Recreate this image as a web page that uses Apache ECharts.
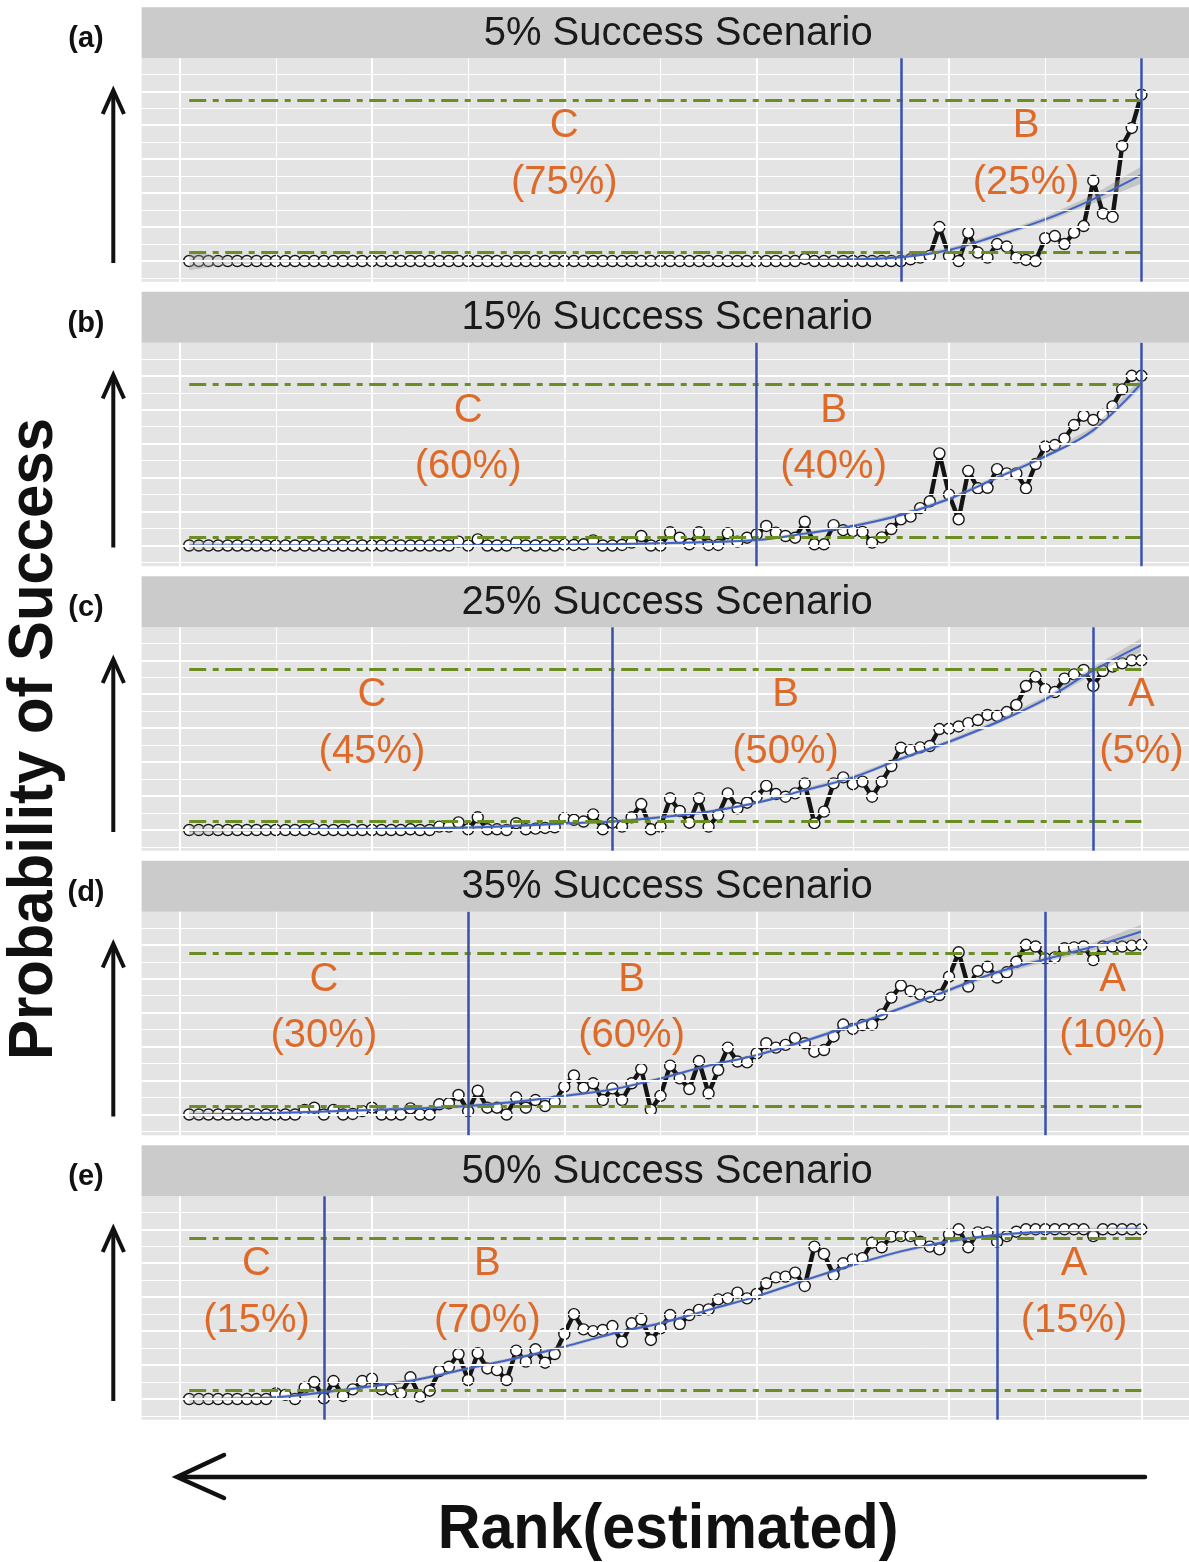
<!DOCTYPE html>
<html>
<head>
<meta charset="utf-8">
<title>Probability of Success by estimated rank</title>
<script src="https://cdn.jsdelivr.net/npm/echarts@6/dist/echarts.min.js"></script>
<style>
  html, body { margin: 0; padding: 0; background: #ffffff; }
  #chart { width: 1189px; height: 1562px; }
</style>
</head>
<body>
<div id="chart"></div>
<script>
// ---------------------------------------------------------------------------
// Data
// ---------------------------------------------------------------------------
// Estimated rank positions (1 .. 100)
const ranks = Array.from({ length: 100 }, (_, i) => i + 1);

const scenarioTitles = [
  '\u20075% Success Scenario',
  '15% Success Scenario',
  '25% Success Scenario',
  '35% Success Scenario',
  '50% Success Scenario'
];
const panelTags = ['(a)', '(b)', '(c)', '(d)', '(e)'];

// Observed probability of success at each rank
const probA = [
  0, 0, 0, 0, 0, 0, 0, 0, 0, 0,
  0, 0, 0, 0, 0, 0, 0, 0, 0, 0,
  0, 0, 0, 0, 0, 0, 0, 0, 0, 0,
  0, 0, 0, 0, 0, 0, 0, 0, 0, 0,
  0, 0, 0, 0, 0, 0, 0, 0, 0, 0,
  0, 0, 0, 0, 0, 0, 0, 0, 0, 0,
  0, 0, 0, 0, 0.012, 0, 0, 0, 0, 0,
  0, 0, 0, 0, 0, 0.01, 0.02, 0.03, 0.20, 0.03,
  0, 0.167, 0.05, 0.02, 0.10, 0.085, 0.02, 0.006, 0, 0.134,
  0.147, 0.10, 0.167, 0.206, 0.473, 0.28, 0.26, 0.678, 0.784, 0.98
];
const probB = [
  0, 0, 0, 0, 0, 0, 0, 0, 0, 0,
  0, 0, 0, 0, 0, 0, 0, 0, 0, 0,
  0, 0, 0, 0, 0, 0, 0, 0, 0.023, 0,
  0.036, 0, 0, 0, 0.017, 0, 0, 0, 0, 0.005,
  0.003, 0.007, 0.03, 0, 0, 0.003, 0.017, 0.056, 0, 0,
  0.078, 0.046, 0.007, 0.078, 0.003, 0.003, 0.072, 0.023, 0.046, 0.066,
  0.115, 0.076, 0.056, 0.046, 0.14, 0.007, 0.007, 0.12, 0.09, 0.085,
  0.08, 0.017, 0.048, 0.097, 0.154, 0.17, 0.22, 0.26, 0.543, 0.30,
  0.154, 0.44, 0.337, 0.34, 0.45, 0.425, 0.425, 0.337, 0.48, 0.583,
  0.592, 0.63, 0.71, 0.765, 0.74, 0.77, 0.82, 0.92, 1.0, 1.0
];
const probC = [
  0, 0, 0, 0, 0, 0, 0, 0, 0, 0,
  0, 0, 0, 0.005, 0, 0, 0, 0, 0, 0,
  0, 0, 0, 0.004, 0, 0, 0.02, 0.02, 0.045, 0.004,
  0.075, 0.004, 0.004, 0, 0.04, 0.004, 0.008, 0.012, 0.016, 0.07,
  0.06, 0.05, 0.092, 0.004, 0.043, 0.02, 0.075, 0.153, 0.004, 0.02,
  0.187, 0.112, 0.043, 0.187, 0.02, 0.088, 0.216, 0.128, 0.161, 0.196,
  0.26, 0.212, 0.196, 0.216, 0.275, 0.04, 0.108, 0.275, 0.31, 0.27,
  0.285, 0.196, 0.285, 0.377, 0.485, 0.47, 0.487, 0.495, 0.595, 0.597,
  0.61, 0.63, 0.648, 0.678, 0.672, 0.695, 0.737, 0.849, 0.904, 0.83,
  0.813, 0.892, 0.917, 0.943, 0.849, 0.937, 0.963, 0.982, 1.0, 1.0
];
const probD = [
  0, 0, 0, 0, 0, 0, 0, 0, 0, 0,
  0, 0, 0.027, 0.04, 0, 0.027, 0, 0.003, 0.02, 0.04,
  0, 0, 0, 0.036, 0, 0, 0.06, 0.066, 0.115, 0.02,
  0.14, 0.04, 0.04, 0, 0.1, 0.04, 0.085, 0.05, 0.076, 0.164,
  0.23, 0.158, 0.184, 0.085, 0.154, 0.085, 0.184, 0.268, 0.027, 0.11,
  0.288, 0.213, 0.15, 0.315, 0.125, 0.262, 0.394, 0.312, 0.307, 0.36,
  0.42, 0.394, 0.41, 0.45, 0.42, 0.37, 0.38, 0.46, 0.53, 0.504,
  0.527, 0.53, 0.59, 0.689, 0.76, 0.728, 0.708, 0.694, 0.704, 0.812,
  0.956, 0.754, 0.846, 0.871, 0.807, 0.838, 0.9, 1.0, 0.99, 0.92,
  0.926, 0.98, 0.985, 0.99, 0.91, 0.99, 0.99, 0.99, 0.995, 1.0
];
const probE = [
  0, 0, 0, 0, 0, 0, 0, 0, 0, 0.033,
  0.024, 0, 0.067, 0.1, 0.004, 0.106, 0.018, 0.057, 0.106, 0.12,
  0.057, 0.057, 0.033, 0.128, 0.014, 0.049, 0.165, 0.19, 0.265, 0.112,
  0.27, 0.18, 0.17, 0.112, 0.285, 0.22, 0.293, 0.214, 0.265, 0.383,
  0.5, 0.41, 0.4, 0.407, 0.43, 0.338, 0.446, 0.47, 0.348, 0.416,
  0.495, 0.442, 0.495, 0.525, 0.528, 0.587, 0.593, 0.627, 0.593, 0.619,
  0.682, 0.717, 0.721, 0.745, 0.666, 0.898, 0.855, 0.73, 0.8, 0.823,
  0.83, 0.921, 0.894, 0.957, 0.96, 0.96, 0.927, 0.898, 0.882, 0.97,
  1.0, 0.894, 0.982, 0.982, 0.927, 0.96, 0.986, 1.0, 1.0, 1.0,
  1.0, 1.0, 1.0, 1.0, 0.96, 1.0, 1.0, 1.0, 1.0, 1.0
];

// Loess trend (fit and standard-error half width) sampled along the rank axis
const smoothX = [1, 5, 10, 15, 20, 25, 30, 35, 40, 45, 50, 55, 60, 65, 70, 75, 80, 85, 90, 95, 100];
const fitA = [0, 0, 0, 0, 0, 0, 0, 0, 0, 0, 0, 0, 0.002, 0.005, 0.01, 0.022, 0.065, 0.15, 0.245, 0.365, 0.507];
const seA  = [0.055, 0.02, 0.012, 0.01, 0.01, 0.01, 0.01, 0.01, 0.01, 0.01, 0.01, 0.01, 0.01, 0.01, 0.01, 0.012, 0.013, 0.014, 0.016, 0.025, 0.05];
const fitB = [0, 0, 0, 0, 0, 0.001, 0.002, 0.003, 0.004, 0.008, 0.013, 0.02, 0.032, 0.07, 0.115, 0.18, 0.274, 0.4, 0.525, 0.68, 0.956];
const seB  = [0.03, 0.015, 0.01, 0.01, 0.008, 0.008, 0.008, 0.008, 0.008, 0.008, 0.008, 0.008, 0.008, 0.01, 0.01, 0.012, 0.012, 0.012, 0.014, 0.018, 0.03];
const fitC = [-0.003, 0, 0.002, 0.004, 0.006, 0.01, 0.015, 0.025, 0.038, 0.05, 0.075, 0.108, 0.16, 0.235, 0.31, 0.42, 0.52, 0.635, 0.77, 0.94, 1.09];
const seC  = [0.03, 0.015, 0.01, 0.01, 0.01, 0.01, 0.01, 0.01, 0.01, 0.01, 0.01, 0.01, 0.01, 0.012, 0.012, 0.012, 0.014, 0.014, 0.016, 0.022, 0.04];
const fitD = [0, 0.003, 0.009, 0.017, 0.027, 0.036, 0.05, 0.075, 0.11, 0.148, 0.213, 0.288, 0.35, 0.433, 0.527, 0.626, 0.734, 0.838, 0.915, 0.99, 1.078];
const seD  = [0.025, 0.012, 0.01, 0.01, 0.01, 0.01, 0.01, 0.01, 0.01, 0.01, 0.01, 0.01, 0.01, 0.012, 0.012, 0.012, 0.014, 0.014, 0.018, 0.022, 0.04];
const fitE = [0, 0.002, 0.01, 0.04, 0.075, 0.118, 0.18, 0.24, 0.308, 0.385, 0.446, 0.525, 0.605, 0.70, 0.79, 0.87, 0.93, 0.967, 0.985, 0.995, 1.0];
const seE  = [0.025, 0.012, 0.01, 0.01, 0.01, 0.01, 0.01, 0.01, 0.01, 0.01, 0.01, 0.01, 0.01, 0.01, 0.01, 0.01, 0.01, 0.01, 0.012, 0.014, 0.02];

// Zone boundaries (rank) and the zones they separate
const cutsA = [75, 100];
const cutsB = [60, 100];
const cutsC = [45, 95];
const cutsD = [30, 90];
const cutsE = [15, 85];
const zoneNames = [['C', 'B'], ['C', 'B'], ['C', 'B', 'A'], ['C', 'B', 'A'], ['C', 'B', 'A']];
const zoneShares = [[75, 25], [60, 40], [45, 50, 5], [30, 60, 10], [15, 70, 15]];

// Reference thresholds on the probability axis
const thresholds = [0.05, 0.95];
const xTickValues = [0, 20, 40, 60, 80, 100];
const xMinorValues = [10, 30, 50, 70, 90];
const yTickValues = [0, 0.2, 0.4, 0.6, 0.8, 1.0];
const yMinorValues = [-0.1, 0.1, 0.3, 0.5, 0.7, 0.9, 1.1];

// ---------------------------------------------------------------------------
// Layout
// ---------------------------------------------------------------------------
const GRID_LEFT = 141.6, GRID_WIDTH = 1050.9;
const TOP0 = 7.3, PITCH = 284.5, STRIP_H = 51, PLOT_H = 223.4;
const X_MIN = -3.95, X_MAX = 104.95, Y_MIN = -0.122, Y_MAX = 1.1945;
const LETTER_Y = 0.795, SHARE_Y = 0.46;
const zoneLabelX = [[40, 88], [30, 68], [20, 63, 100], [15, 47, 97], [8, 32, 93]];

const FONT = '"Liberation Sans", Arial, Helvetica, sans-serif';
const COL = {
  panel: '#E4E4E4', strip: '#CBCBCB', grid: '#FFFFFF', ink: '#151515',
  fit: '#3F63C8', band: 'rgba(150,150,150,0.40)', thr: '#6B8E23',
  cut: '#3A51A8', zone: '#DE6A2A', tick: '#555555'
};

const panels = [
  { prob: probA, fit: fitA, se: seA, cuts: cutsA },
  { prob: probB, fit: fitB, se: seB, cuts: cutsB },
  { prob: probC, fit: fitC, se: seC, cuts: cutsC },
  { prob: probD, fit: fitD, se: seD, cuts: cutsD },
  { prob: probE, fit: fitE, se: seE, cuts: cutsE }
];

const grid = [], xAxis = [], yAxis = [], series = [], graphic = [];

panels.forEach((p, k) => {
  const top = TOP0 + PITCH * k;
  const isBottom = k === panels.length - 1;

  grid.push({
    left: GRID_LEFT, top: top + STRIP_H, width: GRID_WIDTH, height: PLOT_H,
    show: true, backgroundColor: COL.panel, borderWidth: 0
  });
  xAxis.push({
    type: 'value', gridIndex: k, min: X_MIN, max: X_MAX,
    axisLine: { show: false }, splitLine: { show: false }, axisLabel: { show: false },
    axisTick: isBottom
      ? { show: true, customValues: xTickValues, length: 8, lineStyle: { color: COL.tick, width: 1.5 } }
      : { show: false }
  });
  yAxis.push({
    type: 'value', gridIndex: k, min: Y_MIN, max: Y_MAX,
    axisLine: { show: false }, splitLine: { show: false }, axisLabel: { show: false },
    axisTick: { show: true, customValues: yTickValues, length: 8, lineStyle: { color: COL.tick, width: 1.5 } }
  });

  const ax = { xAxisIndex: k, yAxisIndex: k };

  // panel grid lines
  const minorStyle = { color: COL.grid, width: 1, type: 'solid' };
  const majorStyle = { color: COL.grid, width: 2, type: 'solid' };
  series.push(Object.assign({
    type: 'line', z: 1, silent: true, symbol: 'none',
    data: [[X_MIN, Y_MIN]], lineStyle: { opacity: 0 },
    markLine: {
      silent: true, symbol: ['none', 'none'], label: { show: false },
      emphasis: { disabled: true }, animation: false,
      data: [].concat(
        yMinorValues.map(v => ({ yAxis: v, lineStyle: minorStyle })),
        xMinorValues.map(v => ({ xAxis: v, lineStyle: minorStyle })),
        yTickValues.map(v => ({ yAxis: v, lineStyle: majorStyle })),
        xTickValues.map(v => ({ xAxis: v, lineStyle: majorStyle }))
      )
    }
  }, ax));

  // observed probabilities: thick black path with open circles
  series.push(Object.assign({
    type: 'line', z: 2, silent: true,
    data: ranks.map((r, i) => [r, p.prob[i]]),
    symbol: 'circle', symbolSize: 11, showAllSymbol: true,
    itemStyle: { color: '#FFFFFF', borderColor: COL.ink, borderWidth: 1.4 },
    lineStyle: { color: COL.ink, width: 4.4, join: 'round' }
  }, ax));

  // confidence band of the trend
  series.push(Object.assign({
    type: 'custom', z: 3, silent: true, data: [[0, 0]],
    renderItem: (params, api) => {
      const upper = smoothX.map((x, i) => api.coord([x, p.fit[i] + p.se[i]]));
      const lower = smoothX.map((x, i) => api.coord([x, p.fit[i] - p.se[i]])).reverse();
      return { type: 'polygon', shape: { points: upper.concat(lower) }, style: { fill: COL.band } };
    }
  }, ax));

  // trend line
  series.push(Object.assign({
    type: 'line', z: 4, silent: true, symbol: 'none', smooth: 0.4,
    data: smoothX.map((x, i) => [x, p.fit[i]]),
    lineStyle: { color: COL.fit, width: 2 }
  }, ax));

  // threshold lines
  series.push(Object.assign({
    type: 'line', z: 5, silent: true, symbol: 'none',
    data: [[X_MIN, Y_MIN]], lineStyle: { opacity: 0 },
    markLine: {
      silent: true, symbol: ['none', 'none'], label: { show: false },
      emphasis: { disabled: true }, animation: false,
      lineStyle: { color: COL.thr, width: 3.2, type: [17, 6.5, 6, 6.5], cap: 'butt' },
      data: thresholds.map(t => [{ coord: [ranks[0], t] }, { coord: [ranks[ranks.length - 1], t] }])
    }
  }, ax));

  // zone boundaries
  series.push(Object.assign({
    type: 'line', z: 6, silent: true, symbol: 'none',
    data: [[X_MIN, Y_MIN]], lineStyle: { opacity: 0 },
    markLine: {
      silent: true, symbol: ['none', 'none'], label: { show: false },
      emphasis: { disabled: true }, animation: false,
      lineStyle: { color: COL.cut, width: 2.5, type: 'solid' },
      data: p.cuts.map(c => ({ xAxis: c }))
    }
  }, ax));

  // zone labels (letter above, share below)
  const zoneData = [], zoneText = [];
  zoneNames[k].forEach((name, j) => {
    zoneData.push([zoneLabelX[k][j], LETTER_Y]);
    zoneText.push(name);
    zoneData.push([zoneLabelX[k][j], SHARE_Y]);
    zoneText.push('(' + zoneShares[k][j] + '%)');
  });
  series.push(Object.assign({
    type: 'custom', z: 7, silent: true, clip: false,
    data: zoneData,
    renderItem: (params, api) => {
      const pt = api.coord([api.value(0), api.value(1)]);
      return {
        type: 'text', x: pt[0], y: pt[1],
        style: {
          text: zoneText[params.dataIndex], fill: COL.zone,
          font: '40px ' + FONT, align: 'center', verticalAlign: 'middle'
        }
      };
    }
  }, ax));

  // facet strip with its title
  graphic.push({
    type: 'rect', silent: true, z: 0,
    shape: { x: GRID_LEFT, y: top, width: GRID_WIDTH, height: STRIP_H },
    style: { fill: COL.strip }
  });
  graphic.push({
    type: 'text', silent: true, z: 1,
    x: GRID_LEFT + GRID_WIDTH / 2, y: top + STRIP_H / 2 + 1,
    style: {
      text: scenarioTitles[k], font: '40px ' + FONT, fill: '#1A1A1A',
      align: 'center', verticalAlign: 'middle', textAlign: 'center', textVerticalAlign: 'middle'
    }
  });
  // panel tag
  graphic.push({
    type: 'text', silent: true,
    x: 86, y: top + 31.7,
    style: {
      text: panelTags[k], font: 'bold 29px ' + FONT, fill: '#111111',
      align: 'center', verticalAlign: 'middle', textAlign: 'center', textVerticalAlign: 'middle'
    }
  });
  // upward arrow beside each panel
  graphic.push({
    type: 'line', silent: true,
    shape: { x1: 113.3, y1: top + 255.7, x2: 113.3, y2: top + 84 },
    style: { stroke: '#111111', lineWidth: 4 }
  });
  graphic.push({
    type: 'polyline', silent: true,
    shape: { points: [[102.7, top + 106.7], [113.3, top + 83], [124, top + 106.7]] },
    style: { stroke: '#111111', lineWidth: 4, fill: null, lineJoin: 'miter' }
  });
});

// leftward arrow under the panels
graphic.push({
  type: 'line', silent: true,
  shape: { x1: 1145, y1: 1477, x2: 179, y2: 1477 },
  style: { stroke: '#111111', lineWidth: 4.5, lineCap: 'round' }
});
graphic.push({
  type: 'polyline', silent: true,
  shape: { points: [[224, 1455], [177, 1477], [224, 1498]] },
  style: { stroke: '#111111', lineWidth: 4.5, fill: null, lineCap: 'round' }
});

// axis titles
graphic.push({
  type: 'text', silent: true,
  x: 668, y: 1531, scaleX: 0.94,
  style: {
    text: 'Rank(estimated)', font: 'bold 63px ' + FONT, fill: '#111111',
    align: 'center', verticalAlign: 'middle', textAlign: 'center', textVerticalAlign: 'middle'
  }
});
graphic.push({
  type: 'text', silent: true,
  x: 35, y: 739, rotation: Math.PI / 2, scaleX: 0.95,
  style: {
    text: 'Probability of Success', font: 'bold 63px ' + FONT, fill: '#111111',
    align: 'center', verticalAlign: 'middle', textAlign: 'center', textVerticalAlign: 'middle'
  }
});

const chart = echarts.init(document.getElementById('chart'), null, { renderer: 'canvas' });
chart.setOption({
  animation: false,
  backgroundColor: '#FFFFFF',
  grid, xAxis, yAxis, series, graphic
});
</script>
</body>
</html>
